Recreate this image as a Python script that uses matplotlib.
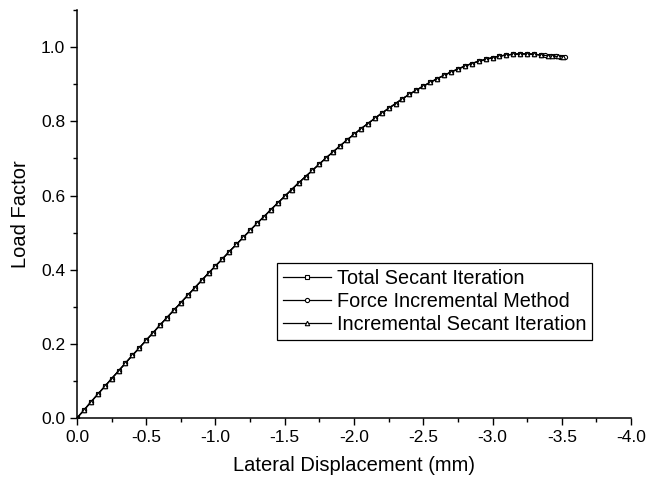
import matplotlib.pyplot as plt
from matplotlib.ticker import MultipleLocator

plt.rcParams['font.family'] = ['Liberation Sans', 'DejaVu Sans']
plt.rcParams['axes.unicode_minus'] = False

# lateral displacement (mm)
disp = [0.00, -0.05, -0.10, -0.15, -0.20, -0.25, -0.30, -0.35, -0.40, -0.45,
        -0.50, -0.55, -0.60, -0.65, -0.70, -0.75, -0.80, -0.85, -0.90, -0.95,
        -1.00, -1.05, -1.10, -1.15, -1.20, -1.25, -1.30, -1.35, -1.40, -1.45,
        -1.50, -1.55, -1.60, -1.65, -1.70, -1.75, -1.80, -1.85, -1.90, -1.95,
        -2.00, -2.05, -2.10, -2.15, -2.20, -2.25, -2.30, -2.35, -2.40, -2.45,
        -2.50, -2.55, -2.60, -2.65, -2.70, -2.75, -2.80, -2.85, -2.90, -2.95,
        -3.00, -3.05, -3.10, -3.15, -3.20, -3.25, -3.30, -3.35, -3.40, -3.45,
        -3.50]

# load factor
load = [0.000, 0.021, 0.043, 0.064, 0.085, 0.106, 0.127, 0.148, 0.169, 0.189,
        0.210, 0.230, 0.251, 0.271, 0.291, 0.311, 0.331, 0.351, 0.371, 0.391,
        0.410, 0.429, 0.449, 0.468, 0.487, 0.506, 0.525, 0.543, 0.562, 0.580,
        0.598, 0.616, 0.634, 0.651, 0.668, 0.685, 0.702, 0.718, 0.734, 0.750,
        0.765, 0.780, 0.794, 0.808, 0.822, 0.835, 0.848, 0.861, 0.873, 0.884,
        0.895, 0.905, 0.915, 0.924, 0.933, 0.941, 0.949, 0.956, 0.962, 0.967,
        0.972, 0.976, 0.979, 0.981, 0.982, 0.982, 0.981, 0.979, 0.977, 0.975,
        0.974]

# the end of the other two runs differs a little
disp_fim = disp[:-3] + [-3.38, -3.42, -3.46, -3.49, -3.52]
load_fim = load[:-3] + [0.978, 0.976, 0.975, 0.974, 0.973]
disp_isi = disp[:-2] + [-3.43, -3.47, -3.51]
load_isi = load[:-2] + [0.976, 0.975, 0.974]

fig = plt.figure(figsize=(6.47, 4.82), dpi=100)
ax = fig.add_axes([0.119, 0.1328, 0.8563, 0.8462])

ax.plot(disp, load, '-s', color='black', lw=0.9, ms=3.2, mfc='white', mew=0.8,
        label='Total Secant Iteration')
ax.plot(disp_fim, load_fim, '-o', color='black', lw=0.9, ms=3.0, mfc='white', mew=0.8,
        label='Force Incremental Method')
ax.plot(disp_isi, load_isi, '-^', color='black', lw=0.9, ms=3.2, mfc='white', mew=0.8,
        label='Incremental Secant Iteration')

ax.set_xlim(0, -4.0)
ax.set_ylim(0, 1.1)
ax.xaxis.set_major_locator(MultipleLocator(0.5))
ax.xaxis.set_minor_locator(MultipleLocator(0.25))
ax.yaxis.set_major_locator(MultipleLocator(0.2))
ax.yaxis.set_minor_locator(MultipleLocator(0.1))
ax.set_yticks([0.0, 0.2, 0.4, 0.6, 0.8, 1.0])
ax.tick_params(which='major', direction='out', length=5, width=1, labelsize=12.5)
ax.tick_params(which='minor', direction='out', length=3, width=1)
ax.spines['top'].set_visible(False)
ax.spines['right'].set_visible(False)
ax.spines['left'].set_linewidth(1.1)
ax.spines['bottom'].set_linewidth(1.1)

ax.set_xlabel('Lateral Displacement (mm)', fontsize=14.5, labelpad=8)
ax.set_ylabel('Load Factor', fontsize=14.5, labelpad=8)

leg = ax.legend(loc='lower left', bbox_to_anchor=(0.361, 0.191), borderaxespad=0,
                fontsize=14.3, fancybox=False, edgecolor='black', framealpha=1,
                borderpad=0.3, labelspacing=0.2, handlelength=2.4,
                handletextpad=0.3)
leg.get_frame().set_linewidth(0.9)

plt.savefig('out.png', dpi=100)
